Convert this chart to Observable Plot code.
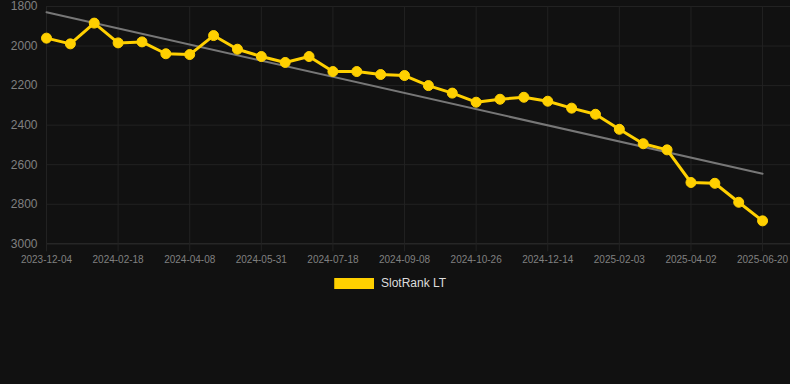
<!DOCTYPE html>
<html>
<head>
<meta charset="utf-8">
<script src="https://cdn.jsdelivr.net/npm/d3@7"></script>
<script src="https://cdn.jsdelivr.net/npm/@observablehq/plot@0.6"></script>
<style>
  html, body { margin: 0; padding: 0; background: #111111; width: 790px; height: 384px; overflow: hidden; }
  body { position: relative; font-family: "Liberation Sans", Arial, Helvetica, sans-serif; }
  #chart svg { display: block; }
  #legend { position: absolute; left: 334px; top: 278px; display: flex; align-items: center; }
  #legend .box { width: 40px; height: 11px; background: #ffd000; box-sizing: border-box; border-left: 1.5px solid #c9a400; }
  #legend .lbl { margin-left: 7px; font-size: 12px; color: #dddddd; line-height: 11px; }
</style>
</head>
<body>
<div id="chart"></div>
<div id="legend"><div class="box"></div><div class="lbl">SlotRank LT</div></div>
<script>
const tickLabels = ["2023-12-04","2024-02-18","2024-04-08","2024-05-31","2024-07-18","2024-09-08","2024-10-26","2024-12-14","2025-02-03","2025-04-02","2025-06-20"];
const rank = [1960,1989,1884,1984,1979,2039,2043,1947,2016,2053,2083,2053,2129,2129,2144,2149,2200,2238,2284,2269,2259,2279,2314,2345,2421,2494,2525,2690,2694,2790,2884];
const trendIndex = [0, 30];
const trendValue = [1829, 2646];
const yTicks = [1800, 2000, 2200, 2400, 2600, 2800, 3000];

const points = rank.map((v, i) => ({i, v}));
const trend = trendIndex.map((i, k) => ({i, v: trendValue[k]}));
const tickIdx = tickLabels.map((_, k) => k * 3);

const gridColor = "#222222";
const chart = Plot.plot({
  width: 790,
  height: 270,
  marginTop: 6,
  marginBottom: 26.7,
  marginLeft: 46,
  marginRight: 0,
  style: {background: "#111111", fontFamily: "Liberation Sans, Arial, sans-serif"},
  x: {type: "linear", domain: [0, 31.17]},
  y: {domain: [1800, 3000], reverse: true},
  marks: [
    Plot.gridY(yTicks, {stroke: gridColor, strokeOpacity: 1}),
    Plot.gridX(tickIdx, {stroke: gridColor, strokeOpacity: 1}),
    Plot.ruleY([3000], {stroke: "#2c2c2c"}),
    Plot.axisY(yTicks, {tickSize: 0, tickPadding: 9, fontSize: 12, fill: "#808080", label: null, tickFormat: d => String(d)}),
    Plot.axisX(tickIdx, {tickSize: 8, tickPadding: 4, stroke: gridColor, fontSize: 10, fill: "#808080", label: null,
      tickFormat: d => tickLabels[d / 3]}),
    Plot.line(trend, {x: "i", y: "v", stroke: "#777777", strokeWidth: 2}),
    Plot.line(points, {x: "i", y: "v", stroke: "#ffd000", strokeWidth: 3}),
    Plot.dot(points, {x: "i", y: "v", r: 5, fill: "#ffd000", stroke: "#ffd000", strokeWidth: 1})
  ]
});
document.getElementById("chart").appendChild(chart);
</script>
</body>
</html>
